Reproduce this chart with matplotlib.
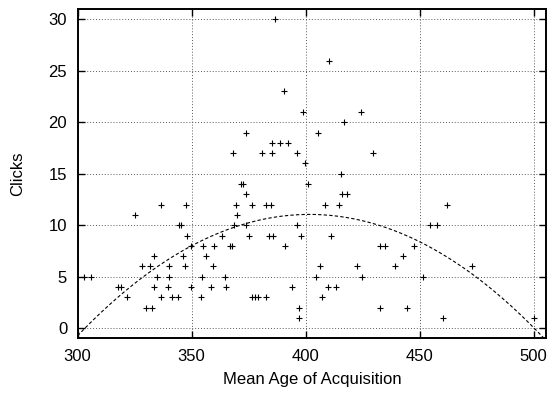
import matplotlib
matplotlib.use('Agg')
import matplotlib.pyplot as plt
import numpy as np

plt.rcParams['font.family'] = ['Liberation Sans', 'DejaVu Sans']

# mean age of acquisition vs clicks
age = [303, 306, 325, 336.5, 347.6, 344.4, 345.5, 348, 349.6, 346.4, 347.3, 333.7,
       328.4, 331.8, 334.9, 340.1, 340.3, 317.9, 319.1, 321.9, 333.7, 339.5, 336.5,
       341.6, 343.9, 329.9, 332.5, 349.8, 354.2, 354.5, 355.2, 356.5, 359.6, 359.9,
       358.4, 363.4, 364.8, 365.1, 366.9, 367.9, 368.6, 369.5, 369.8, 371.6, 372.6,
       374.0, 373.9, 375.1, 376.4, 376.3, 377.8, 379.3, 382.6, 382.8, 384.9, 384.1,
       385.6, 390.9, 393.9, 396.3, 397.1, 397.1, 397.9,
       415.4, 401.2, 415.9, 418.1, 408.7, 414.7, 461.8, 454.4, 457.5, 411.0, 432.7,
       435.0, 447.5, 442.8, 406.5, 422.6, 439.3, 473.0, 404.7, 424.8, 451.7, 409.9,
       413.2, 407.1, 432.7, 444.5, 460.1, 500.1,
       410.2, 398.8, 424.5, 416.9, 405.6, 396.1, 429.6, 399.6,
       386.5, 390.7, 374.0, 368.1, 380.8, 385.4, 385.4, 388.8, 392.2]
clicks = [5, 5, 11, 12, 12, 10, 10, 9, 8, 7, 6, 7,
          6, 6, 5, 6, 5, 4, 4, 3, 4, 4, 3,
          3, 3, 2, 2, 4, 3, 5, 8, 7, 6, 8,
          4, 9, 5, 4, 8, 8, 10, 12, 11, 14, 14,
          13, 10, 9, 12, 3, 3, 3, 3, 12, 12, 9,
          9, 8, 4, 10, 2, 1, 9,
          15, 14, 13, 13, 12, 12, 12, 10, 10, 9, 8,
          8, 8, 7, 6, 6, 6, 6, 5, 5, 5, 4,
          4, 3, 2, 2, 1, 1,
          26, 21, 21, 20, 19, 17, 17, 16,
          30, 23, 19, 17, 17, 17, 18, 18, 18]

# quadratic fit y = a*(x-h)^2 + k
fit_a = -0.001139
fit_h = 401.75
fit_k = 11.05

fig = plt.figure(figsize=(5.5, 3.94), dpi=100)
ax = fig.add_axes([0.141, 0.141, 0.852, 0.836])

ax.plot(age, clicks, '+', color='black', markersize=5, markeredgewidth=0.8, zorder=3)

xs = np.linspace(300, 506, 300)
ax.plot(xs, fit_a * (xs - fit_h) ** 2 + fit_k, color='black', linestyle=(0, (3, 2)),
        linewidth=0.8, zorder=2)

ax.set_xlim(300, 505.5)
ax.set_ylim(-1, 31)
ax.set_xticks([300, 350, 400, 450, 500])
ax.set_yticks([0, 5, 10, 15, 20, 25, 30])
ax.tick_params(direction='in', top=True, right=True, length=5, width=1, labelsize=12, pad=7.5)
ax.grid(True, color='0.35', linestyle=(0, (1, 2)), linewidth=0.7)
ax.set_axisbelow(True)
for s in ax.spines.values():
    s.set_linewidth(1.4)

ax.set_xlabel('Mean Age of Acquisition', fontsize=12, labelpad=6)
ax.set_ylabel('Clicks', fontsize=12, labelpad=17)

fig.savefig('out.png', dpi=100)
